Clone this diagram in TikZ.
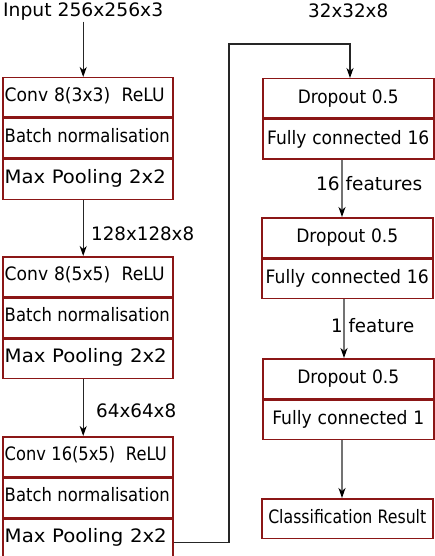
\documentclass[tikz,border=0pt]{standalone}
\usepackage{fontspec}
\setmainfont{DejaVu Sans}
\usepackage{graphicx}
\usetikzlibrary{arrows.meta}
\definecolor{boxred}{RGB}{139,22,22}
\newcommand\tw[2]{\resizebox{#1pt}{\height}{#2}}
\begin{document}
\begin{tikzpicture}[x=1pt,y=-1pt,
  font=\fontsize{18.5}{20}\selectfont,
  lrow/.style={draw=boxred,line width=1.5pt,rectangle,fill=white,
    text width=166pt,align=left,inner xsep=2pt,inner ysep=0pt,
    text height=24pt,text depth=15.5pt,anchor=north west},
  rrow/.style={draw=boxred,line width=1.5pt,rectangle,fill=white,
    text width=167pt,align=center,inner xsep=2pt,inner ysep=0pt,
    text height=24.5pt,text depth=15pt,anchor=north west},
  lbl/.style={inner sep=0pt,anchor=base west},
  arr/.style={draw=black!85,line width=1.1pt,-{Stealth[length=10pt,width=7pt,inset=3pt,color=black]}},
  garr/.style={draw=black!55,line width=1.4pt,-{Stealth[length=10pt,width=7pt,inset=3pt,color=black]}}]
\useasboundingbox (0,0) rectangle (434,556);
% labels
\node[lbl] (inp) at (3,16.5) {\tw{160}{Input 256x256x3}};
\node[lbl] (l32) at (308,18) {\tw{80}{32x32x8}};
\node[lbl] (l128) at (91,240) {\tw{103}{128x128x8}};
\node[lbl] (l64) at (96,417) {\tw{80}{64x64x8}};
% left blocks
\node[lrow] (b1a) at (2,77) {\tw{160}{Conv 8(3x3)\ \ ReLU}};
\node[lrow] (b1b) at (b1a.south west) {\tw{165}{Batch normalisation}};
\node[lrow] (b1c) at (b1b.south west) {\tw{161}{Max Pooling 2x2}};
\node[lrow] (b2a) at (2,256) {\tw{160}{Conv 8(5x5)\ \ ReLU}};
\node[lrow] (b2b) at (b2a.south west) {\tw{165}{Batch normalisation}};
\node[lrow] (b2c) at (b2b.south west) {\tw{162}{Max Pooling 2x2}};
\node[lrow] (b3a) at (2,436) {\tw{162}{Conv 16(5x5)\ \ ReLU}};
\node[lrow] (b3b) at (b3a.south west) {\tw{165}{Batch normalisation}};
\node[lrow] (b3c) at (b3b.south west) {\tw{162}{Max Pooling 2x2}};
% right blocks
\node[rrow] (ra1) at (262,78) {\tw{101}{Dropout 0.5}};
\node[rrow] (ra2) at (ra1.south west) {\tw{162}{Fully connected 16}};
\node[rrow] (rb1) at (261,217) {\tw{102}{Dropout 0.5}};
\node[rrow] (rb2) at (rb1.south west) {\tw{163}{Fully connected 16}};
\node[rrow] (rc1) at (262,358) {\tw{102}{Dropout 0.5}};
\node[rrow] (rc2) at (rc1.south west) {\tw{152}{Fully connected 1}};
\node[rrow] (fin) at (261,498) {\tw{158}{Classification Result}};
% connector labels
\node[lbl] (f16) at (316,190) {\tw{106}{16 features}};
\node[lbl] (f1) at (331,332) {\tw{83}{1 feature}};
% connectors
\draw[arr] ([yshift=-1pt]inp.south) -- (inp.south |- b1a.north);
\draw[arr] (b1c.south -| inp.south) -- (b2a.north -| inp.south);
\draw[arr] (b2c.south -| inp.south) -- (b3a.north -| inp.south);
\coordinate (k1) at (229,44);
\coordinate (k2) at (350,44);
\coordinate (xa) at (342,0);
\coordinate (xb) at (344,0);
\draw[arr] ([yshift=-4pt]b3c.east) -| (k1) -- (k2) -- (k2 |- ra1.north);
\draw[garr] (ra2.south -| xa) -- (rb1.north -| xa);
\draw[garr] (rb2.south -| xb) -- (rc1.north -| xb);
\draw[garr] (rc2.south -| xa) -- (fin.north -| xa);
\end{tikzpicture}
\end{document}
